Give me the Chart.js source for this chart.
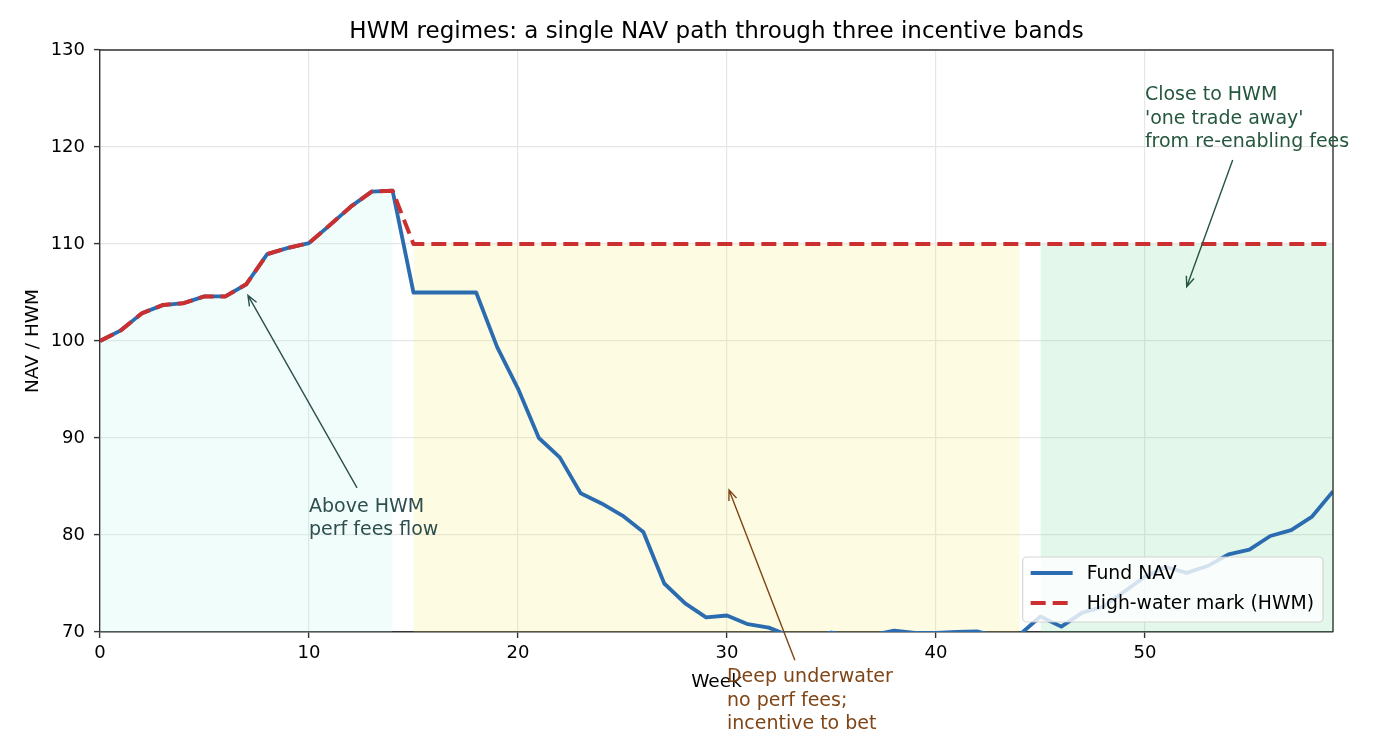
<!DOCTYPE html>
<html lang="en">
<head>
    <meta charset="UTF-8">
    <title>HWM regimes</title>
    <script src="https://cdn.jsdelivr.net/npm/chart.js"></script>
    <style>
        html, body { margin: 0; padding: 0; background: #fff; }
        .chart-box { width: 1400px; height: 756px; }
    </style>
</head>
<body>
    <div class="chart-box"><canvas id="hwmChart" width="1400" height="756"></canvas></div>

    <script>
        // Weekly data
        const weeks = [0, 1, 2, 3, 4, 5, 6, 7, 8, 9, 10, 11, 12, 13, 14, 15, 16, 17, 18, 19,
                       20, 21, 22, 23, 24, 25, 26, 27, 28, 29, 30, 31, 32, 33, 34, 35, 36, 37, 38, 39,
                       40, 41, 42, 43, 44, 45, 46, 47, 48, 49, 50, 51, 52, 53, 54, 55, 56, 57, 58, 59];

        const navValues = [100.0, 101.1, 102.85, 103.7, 103.9, 104.6, 104.6, 105.85, 108.95, 109.6,
                           110.1, 111.95, 113.85, 115.4, 115.5, 105.0, 105.0, 105.0, 105.0, 99.4,
                           95.1, 90.0, 88.0, 84.3, 83.25, 82.0, 80.3, 75.0, 72.95, 71.5,
                           71.7, 70.8, 70.45, 69.6, 69.4, 69.95, 69.5, 69.7, 70.15, 69.9,
                           69.9, 70.0, 70.05, 69.5, 69.7, 71.6, 70.55, 72.0, 72.6, 74.15,
                           75.7, 76.7, 76.1, 76.8, 78.0, 78.5, 79.9, 80.5, 81.9, 84.5];

        const hwmValues = [100.0, 101.1, 102.85, 103.7, 103.9, 104.6, 104.6, 105.85, 108.95, 109.6,
                           110.1, 111.95, 113.85, 115.4, 115.5, 110, 110, 110, 110, 110,
                           110, 110, 110, 110, 110, 110, 110, 110, 110, 110,
                           110, 110, 110, 110, 110, 110, 110, 110, 110, 110,
                           110, 110, 110, 110, 110, 110, 110, 110, 110, 110,
                           110, 110, 110, 110, 110, 110, 110, 110, 110, 110];

        // regime bands (first week, last week)
        const aboveBand = [0, 14];
        const underwaterBand = [15, 44];
        const nearBand = [45, 59];

        const xTicks = [0, 10, 20, 30, 40, 50];
        const yTicks = [70, 80, 90, 100, 110, 120, 130];

        const FONT = 'DejaVu Sans';

        function points(values, band) {
            return weeks.filter(w => w >= band[0] && w <= band[1])
                        .map(w => ({ x: w, y: values[w] }));
        }

        function bandDataset(values, band, color) {
            return {
                data: points(values, band),
                borderWidth: 0,
                pointRadius: 0,
                backgroundColor: color,
                fill: { value: 70 },
                clip: 0,
                order: 5
            };
        }

        // notes with arrows, in data coordinates
        const notes = [
            { lines: ['Above HWM', 'perf fees flow'], text: [10, 80], tail: [12.3, 84.85], tip: [7.08, 104.7], color: '#2f4f4f' },
            { lines: ['Deep underwater', 'no perf fees;', 'incentive to bet'], text: [30, 60], tail: [33.25, 67.1], tip: [30.1, 84.65], color: '#7f4516' },
            { lines: ['Close to HWM', "'one trade away'", 'from re-enabling fees'], text: [50, 120], tail: [54.2, 118.65], tip: [52.0, 105.6], color: '#24573d' }
        ];

        function drawArrow(ctx, x0, y0, x1, y1, color) {
            const ang = Math.atan2(y1 - y0, x1 - x0);
            const len = 11, spread = 0.38;
            ctx.strokeStyle = color;
            ctx.lineWidth = 1.4;
            ctx.beginPath();
            ctx.moveTo(x0, y0);
            ctx.lineTo(x1, y1);
            ctx.moveTo(x1 - len * Math.cos(ang - spread), y1 - len * Math.sin(ang - spread));
            ctx.lineTo(x1, y1);
            ctx.lineTo(x1 - len * Math.cos(ang + spread), y1 - len * Math.sin(ang + spread));
            ctx.stroke();
        }

        const decorations = {
            id: 'decorations',
            afterDraw(chart) {
                const { ctx, chartArea: a, scales } = chart;
                const x = scales.x, y = scales.y;
                ctx.save();

                // top and right spines
                ctx.strokeStyle = '#333';
                ctx.lineWidth = 1.4;
                ctx.beginPath();
                ctx.moveTo(a.left, a.top);
                ctx.lineTo(a.right, a.top);
                ctx.lineTo(a.right, a.bottom);
                ctx.stroke();

                // title and axis labels
                ctx.fillStyle = '#000';
                ctx.textAlign = 'center';
                ctx.textBaseline = 'alphabetic';
                ctx.font = '23px "' + FONT + '"';
                ctx.fillText('HWM regimes: a single NAV path through three incentive bands', (a.left + a.right) / 2, 38);
                ctx.font = '18.5px "' + FONT + '"';
                ctx.fillText('Week', (a.left + a.right) / 2, 687);
                ctx.save();
                ctx.translate(38, (a.top + a.bottom) / 2);
                ctx.rotate(-Math.PI / 2);
                ctx.fillText('NAV / HWM', 0, 0);
                ctx.restore();

                // annotations
                ctx.textAlign = 'left';
                ctx.font = '19px "' + FONT + '"';
                notes.forEach(n => {
                    drawArrow(ctx, x.getPixelForValue(n.tail[0]), y.getPixelForValue(n.tail[1]),
                              x.getPixelForValue(n.tip[0]), y.getPixelForValue(n.tip[1]), n.color);
                    ctx.fillStyle = n.color;
                    const tx = x.getPixelForValue(n.text[0]);
                    const ty = y.getPixelForValue(n.text[1]);
                    const lh = 23.5;
                    n.lines.forEach((line, i) => {
                        ctx.fillText(line, tx, ty - (n.lines.length - 1 - i) * lh);
                    });
                });

                // legend, lower right inside the axes
                const items = [
                    { label: 'Fund NAV', color: '#2b6cb0', dash: [] },
                    { label: 'High-water mark (HWM)', color: '#cc2f2f', dash: [15, 7] }
                ];
                ctx.font = '18.8px "' + FONT + '"';
                const textW = Math.max(...items.map(it => ctx.measureText(it.label).width));
                const boxW = 8 + 42 + 14 + textW + 9;
                const boxH = 65;
                const bx = a.right - 10 - boxW;
                const by = a.bottom - 10 - boxH;
                ctx.beginPath();
                ctx.roundRect(bx, by, boxW, boxH, 4);
                ctx.fillStyle = 'rgba(255,255,255,0.8)';
                ctx.fill();
                ctx.strokeStyle = 'rgba(204,204,204,0.8)';
                ctx.lineWidth = 1.2;
                ctx.stroke();
                items.forEach((it, i) => {
                    const ry = by + 16 + i * 30;
                    ctx.strokeStyle = it.color;
                    ctx.lineWidth = 4;
                    ctx.setLineDash(it.dash);
                    ctx.beginPath();
                    ctx.moveTo(bx + 8, ry);
                    ctx.lineTo(bx + 50, ry);
                    ctx.stroke();
                    ctx.setLineDash([]);
                    ctx.fillStyle = '#000';
                    ctx.textBaseline = 'middle';
                    ctx.fillText(it.label, bx + 64, ry + 1);
                });

                ctx.restore();
            }
        };

        const ctx = document.getElementById('hwmChart').getContext('2d');
        const hwmChart = new Chart(ctx, {
            type: 'line',
            data: {
                datasets: [
                    {
                        label: 'High-water mark (HWM)',
                        data: weeks.map(w => ({ x: w, y: hwmValues[w] })),
                        borderColor: '#cc2f2f',
                        borderWidth: 4,
                        borderDash: [15, 7],
                        pointRadius: 0,
                        fill: false,
                        clip: 0,
                        order: 0
                    },
                    {
                        label: 'Fund NAV',
                        data: weeks.map(w => ({ x: w, y: navValues[w] })),
                        borderColor: '#2b6cb0',
                        borderWidth: 3.8,
                        pointRadius: 0,
                        fill: false,
                        clip: 0,
                        order: 1
                    },
                    bandDataset(navValues, aboveBand, 'rgba(180,245,235,0.2)'),
                    bandDataset(hwmValues, underwaterBand, 'rgba(245,234,100,0.19)'),
                    bandDataset(hwmValues, nearBand, 'rgba(100,210,140,0.18)')
                ]
            },
            options: {
                responsive: false,
                animation: false,
                layout: { padding: { top: 50, right: 67, left: 0, bottom: 0 } },
                plugins: {
                    legend: { display: false },
                    title: { display: false },
                    tooltip: { enabled: false }
                },
                elements: { line: { tension: 0, borderJoinStyle: 'round', borderCapStyle: 'butt' } },
                scales: {
                    x: {
                        type: 'linear',
                        min: 0,
                        max: 59,
                        afterBuildTicks: s => { s.ticks = xTicks.map(v => ({ value: v })); },
                        afterFit: s => { s.height = 124; },
                        ticks: { font: { family: FONT, size: 18 }, color: '#000', padding: 5, maxRotation: 0 },
                        grid: { color: '#e6e6e6', lineWidth: 1.2, tickColor: '#333', tickLength: 6, tickWidth: 1.4 },
                        border: { color: '#333', width: 1.4 }
                    },
                    y: {
                        min: 70,
                        max: 130,
                        afterBuildTicks: s => { s.ticks = yTicks.map(v => ({ value: v })); },
                        afterFit: s => { s.width = 100; },
                        ticks: { font: { family: FONT, size: 18 }, color: '#000', padding: 9 },
                        grid: { color: '#e6e6e6', lineWidth: 1.2, tickColor: '#333', tickLength: 6, tickWidth: 1.4 },
                        border: { color: '#333', width: 1.4 }
                    }
                }
            },
            plugins: [decorations]
        });
    </script>
</body>
</html>
